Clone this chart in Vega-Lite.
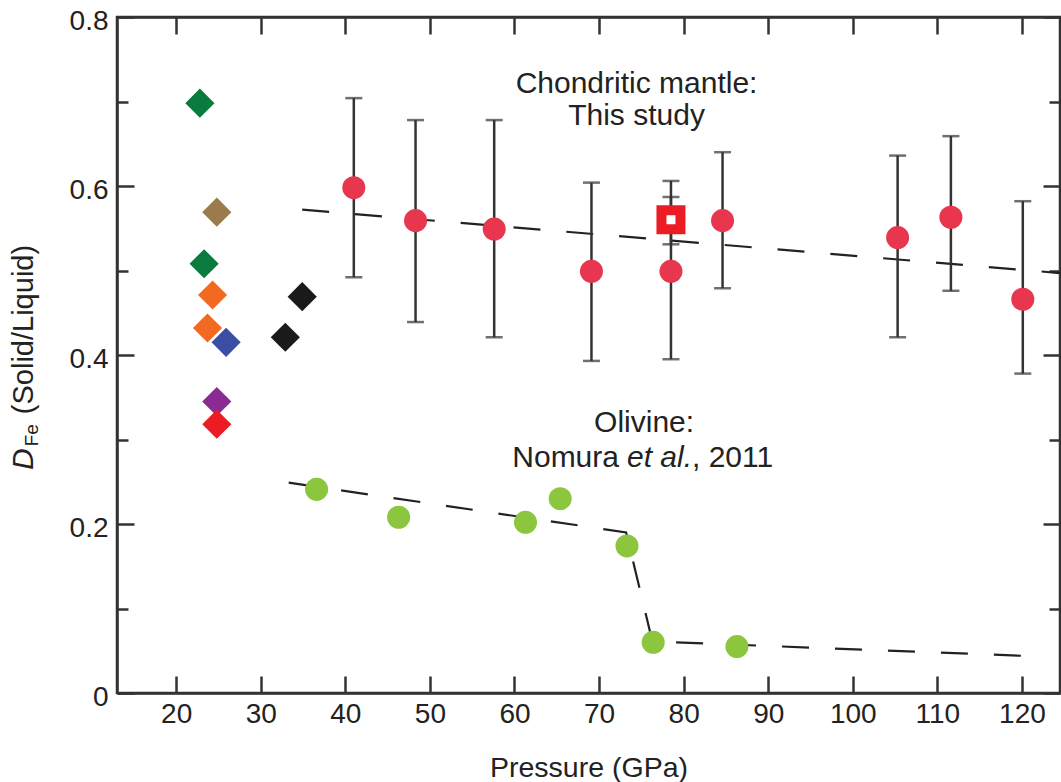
{
  "$schema": "https://vega.github.io/schema/vega-lite/v6.json",
  "width": 943,
  "height": 676,
  "autosize": "none",
  "padding": {"left": 117, "top": 17, "right": 1, "bottom": 89},
  "background": "white",
  "config": {
    "font": "Liberation Sans",
    "view": {"stroke": "#333333", "strokeWidth": 2.5},
    "axis": {
      "grid": false,
      "domainColor": "#333333",
      "domainWidth": 2.5,
      "tickColor": "#333333",
      "tickWidth": 2.5,
      "labelFont": "Liberation Sans",
      "labelFontSize": 28,
      "labelColor": "#222222",
      "labelFlush": false,
      "labelOverlap": false,
      "titleFont": "Liberation Sans",
      "titleFontSize": 28.5,
      "titleFontWeight": "normal",
      "titleColor": "#222222"
    }
  },
  "datasets": {
    "mantle": [
      {"p": 41.0, "d": 0.598, "lo": 0.492, "hi": 0.704},
      {"p": 48.3, "d": 0.559, "lo": 0.439, "hi": 0.678},
      {"p": 57.6, "d": 0.549, "lo": 0.421, "hi": 0.678},
      {"p": 69.1, "d": 0.499, "lo": 0.393, "hi": 0.604},
      {"p": 78.5, "d": 0.499, "lo": 0.395, "hi": 0.606},
      {"p": 84.6, "d": 0.559, "lo": 0.479, "hi": 0.640},
      {"p": 105.3, "d": 0.539, "lo": 0.421, "hi": 0.636},
      {"p": 111.6, "d": 0.563, "lo": 0.476, "hi": 0.659},
      {"p": 120.1, "d": 0.466, "lo": 0.378, "hi": 0.582}
    ],
    "square": [
      {"p": 78.5, "d": 0.560, "lo": 0.531, "hi": 0.587}
    ],
    "olivine": [
      {"p": 36.6, "d": 0.241},
      {"p": 46.3, "d": 0.208},
      {"p": 61.3, "d": 0.202},
      {"p": 65.4, "d": 0.230},
      {"p": 73.3, "d": 0.174},
      {"p": 76.4, "d": 0.060},
      {"p": 86.3, "d": 0.055}
    ],
    "earlier": [
      {"src": "S1", "p": 22.8, "d": 0.698},
      {"src": "S1", "p": 23.3, "d": 0.508},
      {"src": "S2", "p": 24.8, "d": 0.569},
      {"src": "S3", "p": 24.3, "d": 0.471},
      {"src": "S3", "p": 23.7, "d": 0.432},
      {"src": "S4", "p": 25.9, "d": 0.415},
      {"src": "S5", "p": 24.8, "d": 0.345},
      {"src": "S6", "p": 24.8, "d": 0.318},
      {"src": "S7", "p": 34.9, "d": 0.469},
      {"src": "S7", "p": 32.9, "d": 0.421}
    ],
    "mantleFit": [
      {"p": 34.9, "d": 0.572},
      {"p": 124.5, "d": 0.497}
    ],
    "olivineFit": [
      {"p": 33.3, "d": 0.249},
      {"p": 73.2, "d": 0.190},
      {"p": 76.3, "d": 0.061},
      {"p": 120.1, "d": 0.044}
    ],
    "notes": [
      {"key": "m1", "p": 74.43, "d": 0.710, "t": "Chondritic mantle:"},
      {"key": "m2", "p": 74.43, "d": 0.672, "t": "This study"},
      {"key": "o1", "p": 75.32, "d": 0.309, "t": "Olivine:"}
    ],
    "cite": [
      {"p": 73.30, "d": 0.2675, "a": "Nomura", "b": "et al.", "c": ", 2011"}
    ],
    "ytitle": [
      {"part": "D", "p": 3.07, "d": 0.264, "t": "D"},
      {"part": "sub", "p": 3.66, "d": 0.292, "t": "Fe"},
      {"part": "rest", "p": 3.07, "d": 0.330, "t": "(Solid/Liquid)"}
    ]
  },
  "layer": [
    {
      "data": {"name": "olivineFit"},
      "mark": {"type": "line", "stroke": "#222222", "strokeWidth": 2.2, "strokeDash": [27, 26]},
      "encoding": {
        "x": {
          "field": "p", "type": "quantitative",
          "scale": {"domain": [13, 124.5], "nice": false, "zero": false},
          "axis": {
            "orient": "bottom",
            "values": [20, 30, 40, 50, 60, 70, 80, 90, 100, 110, 120],
            "tickSize": -17,
            "labelPadding": 24,
            "title": "Pressure (GPa)",
            "titleY": 83,
            "titleBaseline": "alphabetic"
          }
        },
        "y": {
          "field": "d", "type": "quantitative",
          "scale": {"domain": [0, 0.8], "nice": false, "zero": false},
          "axis": {
            "orient": "left",
            "values": [0, 0.1, 0.2, 0.3, 0.4, 0.5, 0.6, 0.7, 0.8],
            "tickSize": {"condition": {"test": "round(datum.value * 10) % 2 == 1", "value": -11}, "value": -17},
            "labelExpr": "round(datum.value * 10) % 2 == 0 ? (datum.value == 0 ? '0' : format(datum.value, '.1f')) : ''",
            "labelPadding": 26,
            "labelOffset": 4,
            "title": null
          }
        }
      }
    },
    {
      "data": {"name": "mantleFit"},
      "mark": {"type": "line", "stroke": "#222222", "strokeWidth": 2.2, "strokeDash": [27, 26]},
      "encoding": {
        "x": {
          "field": "p", "type": "quantitative",
          "axis": {
            "orient": "top",
            "values": [20, 30, 40, 50, 60, 70, 80, 90, 100, 110, 120],
            "tickSize": -17,
            "labels": false,
            "title": null
          }
        },
        "y": {
          "field": "d", "type": "quantitative",
          "axis": {
            "orient": "right",
            "values": [0, 0.1, 0.2, 0.3, 0.4, 0.5, 0.6, 0.7, 0.8],
            "tickSize": {"condition": {"test": "round(datum.value * 10) % 2 == 1", "value": -11}, "value": -17},
            "labels": false,
            "title": null
          }
        }
      }
    },
    {
      "data": {"name": "mantle"},
      "mark": {"type": "rule", "color": "#333333", "strokeWidth": 2.5},
      "encoding": {
        "x": {"field": "p", "type": "quantitative", "axis": null},
        "y": {"field": "lo", "type": "quantitative", "axis": null},
        "y2": {"field": "hi"}
      }
    },
    {
      "data": {"name": "mantle"},
      "mark": {"type": "tick", "orient": "horizontal", "size": 17, "thickness": 2.5, "color": "#333333"},
      "encoding": {
        "x": {"field": "p", "type": "quantitative", "axis": null},
        "y": {"field": "lo", "type": "quantitative", "axis": null}
      }
    },
    {
      "data": {"name": "mantle"},
      "mark": {"type": "tick", "orient": "horizontal", "size": 17, "thickness": 2.5, "color": "#333333"},
      "encoding": {
        "x": {"field": "p", "type": "quantitative", "axis": null},
        "y": {"field": "hi", "type": "quantitative", "axis": null}
      }
    },
    {
      "data": {"name": "square"},
      "mark": {"type": "rule", "color": "#333333", "strokeWidth": 2.5},
      "encoding": {
        "x": {"field": "p", "type": "quantitative", "axis": null},
        "y": {"field": "lo", "type": "quantitative", "axis": null},
        "y2": {"field": "hi"}
      }
    },
    {
      "data": {"name": "square"},
      "mark": {"type": "tick", "orient": "horizontal", "size": 17, "thickness": 2.5, "color": "#333333"},
      "encoding": {
        "x": {"field": "p", "type": "quantitative", "axis": null},
        "y": {"field": "lo", "type": "quantitative", "axis": null}
      }
    },
    {
      "data": {"name": "square"},
      "mark": {"type": "tick", "orient": "horizontal", "size": 17, "thickness": 2.5, "color": "#333333"},
      "encoding": {
        "x": {"field": "p", "type": "quantitative", "axis": null},
        "y": {"field": "hi", "type": "quantitative", "axis": null}
      }
    },
    {
      "data": {"name": "mantle"},
      "mark": {"type": "circle", "size": 531, "color": "#e8364f", "opacity": 1},
      "encoding": {
        "x": {"field": "p", "type": "quantitative", "axis": null},
        "y": {"field": "d", "type": "quantitative", "axis": null}
      }
    },
    {
      "data": {"name": "square"},
      "mark": {"type": "square", "size": 361, "filled": true, "fill": "white", "stroke": "#ec1c24", "strokeWidth": 10, "opacity": 1},
      "encoding": {
        "x": {"field": "p", "type": "quantitative", "axis": null},
        "y": {"field": "d", "type": "quantitative", "axis": null}
      }
    },
    {
      "data": {"name": "olivine"},
      "mark": {"type": "circle", "size": 531, "color": "#8cc63f", "opacity": 1},
      "encoding": {
        "x": {"field": "p", "type": "quantitative", "axis": null},
        "y": {"field": "d", "type": "quantitative", "axis": null}
      }
    },
    {
      "data": {"name": "earlier"},
      "mark": {"type": "point", "shape": "diamond", "size": 850, "filled": true, "opacity": 1},
      "encoding": {
        "x": {"field": "p", "type": "quantitative", "axis": null},
        "y": {"field": "d", "type": "quantitative", "axis": null},
        "color": {
          "field": "src", "type": "nominal", "legend": null,
          "scale": {
            "domain": ["S1", "S2", "S3", "S4", "S5", "S6", "S7"],
            "range": ["#0b7a3e", "#9b7a4c", "#f26a21", "#3b4ea4", "#892b92", "#ec1c24", "#1a1a1a"]
          }
        }
      }
    },
    {
      "data": {"name": "notes"},
      "mark": {"type": "text", "align": "center", "baseline": "alphabetic", "fontSize": 30, "color": "#222222"},
      "encoding": {
        "x": {"field": "p", "type": "quantitative", "axis": null},
        "y": {"field": "d", "type": "quantitative", "axis": null},
        "text": {"field": "t"}
      }
    },
    {
      "data": {"name": "cite"},
      "mark": {"type": "text", "align": "right", "baseline": "alphabetic", "fontSize": 30, "dx": -8, "color": "#222222"},
      "encoding": {
        "x": {"field": "p", "type": "quantitative", "axis": null},
        "y": {"field": "d", "type": "quantitative", "axis": null},
        "text": {"field": "a"}
      }
    },
    {
      "data": {"name": "cite"},
      "mark": {"type": "text", "align": "left", "baseline": "alphabetic", "fontSize": 30, "fontStyle": "italic", "color": "#222222"},
      "encoding": {
        "x": {"field": "p", "type": "quantitative", "axis": null},
        "y": {"field": "d", "type": "quantitative", "axis": null},
        "text": {"field": "b"}
      }
    },
    {
      "data": {"name": "cite"},
      "mark": {"type": "text", "align": "left", "baseline": "alphabetic", "fontSize": 30, "dx": 65, "color": "#222222"},
      "encoding": {
        "x": {"field": "p", "type": "quantitative", "axis": null},
        "y": {"field": "d", "type": "quantitative", "axis": null},
        "text": {"field": "c"}
      }
    },
    {
      "data": {"name": "ytitle"},
      "transform": [{"filter": "datum.part == 'D'"}],
      "mark": {"type": "text", "angle": 270, "align": "left", "baseline": "alphabetic", "fontSize": 30, "fontStyle": "italic", "color": "#222222"},
      "encoding": {
        "x": {"field": "p", "type": "quantitative", "axis": null},
        "y": {"field": "d", "type": "quantitative", "axis": null},
        "text": {"field": "t"}
      }
    },
    {
      "data": {"name": "ytitle"},
      "transform": [{"filter": "datum.part == 'sub'"}],
      "mark": {"type": "text", "angle": 270, "align": "left", "baseline": "alphabetic", "fontSize": 19, "color": "#222222"},
      "encoding": {
        "x": {"field": "p", "type": "quantitative", "axis": null},
        "y": {"field": "d", "type": "quantitative", "axis": null},
        "text": {"field": "t"}
      }
    },
    {
      "data": {"name": "ytitle"},
      "transform": [{"filter": "datum.part == 'rest'"}],
      "mark": {"type": "text", "angle": 270, "align": "left", "baseline": "alphabetic", "fontSize": 29, "color": "#222222"},
      "encoding": {
        "x": {"field": "p", "type": "quantitative", "axis": null},
        "y": {"field": "d", "type": "quantitative", "axis": null},
        "text": {"field": "t"}
      }
    }
  ],
  "resolve": {"axis": {"x": "independent", "y": "independent"}}
}
